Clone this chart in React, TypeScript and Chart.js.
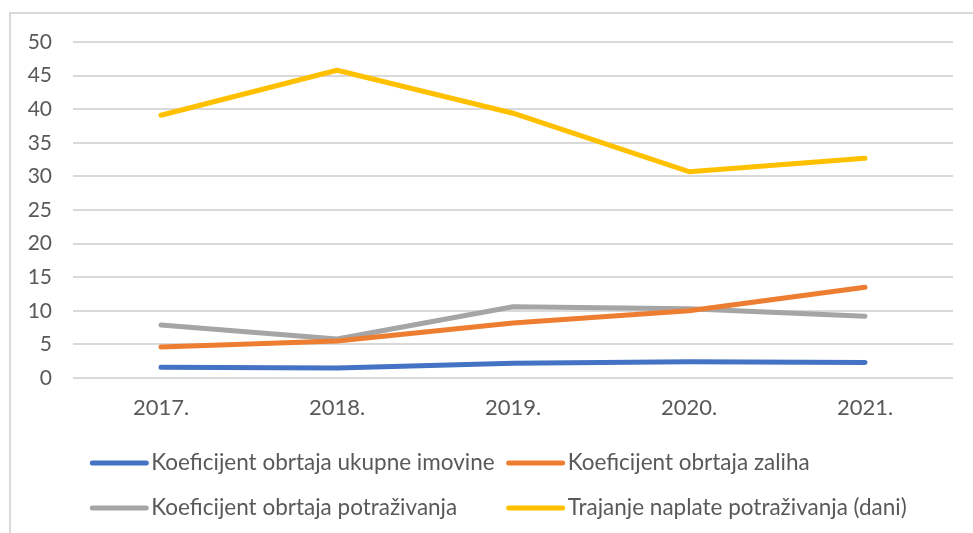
import React, { useEffect, useRef } from "react";
import { Chart, registerables } from "chart.js";

Chart.register(...registerables);

const categories = ["2017.", "2018.", "2019.", "2020.", "2021."];
const ukupneImovine = [1.6, 1.5, 2.2, 2.4, 2.3];
const zaliha = [4.6, 5.5, 8.2, 10.0, 13.5];
const potrazivanja = [7.9, 5.8, 10.6, 10.3, 9.2];
const trajanjeNaplate = [39.1, 45.8, 39.4, 30.7, 32.7];

const seriesNames = [
  "Koeficijent obrtaja ukupne imovine",
  "Koeficijent obrtaja zaliha",
  "Koeficijent obrtaja potraživanja",
  "Trajanje naplate potraživanja (dani)",
];
const seriesColors = ["#4472C4", "#ED7D31", "#A5A5A5", "#FFC000"];

const FONT_FAMILY = "Lato, 'Open Sans', sans-serif";
const TEXT_COLOR = "#595959";

const gridLegend = {
  id: "gridLegend",
  afterDraw(chart: any) {
    const ctx = chart.ctx;
    const ds = chart.data.datasets;
    ctx.save();
    ctx.font = `22.5px ${FONT_FAMILY}`;
    const sample = 58;
    const gap = 3;
    const colGap = 12;
    const w = ds.map((d: any) => ctx.measureText(d.label).width);
    const col1 = sample + gap + Math.max(w[0], w[2]);
    const col2 = sample + gap + Math.max(w[1], w[3]);
    const total = col1 + colGap + col2;
    const startX = chart.width / 2 + 12 - total / 2;
    const rows = [chart.chartArea.bottom + 85, chart.chartArea.bottom + 130];
    ds.forEach((d: any, i: number) => {
      const row = Math.floor(i / 2);
      const col = i % 2;
      const x = col === 0 ? startX : startX + col1 + colGap;
      const y = rows[row];
      ctx.strokeStyle = d.borderColor;
      ctx.lineWidth = 5;
      ctx.lineCap = "round";
      ctx.beginPath();
      ctx.moveTo(x + 2, y);
      ctx.lineTo(x + sample - 2, y);
      ctx.stroke();
      ctx.fillStyle = TEXT_COLOR;
      ctx.textBaseline = "middle";
      ctx.textAlign = "left";
      ctx.fillText(d.label, x + sample + gap, y);
    });
    ctx.restore();
  },
};

export default function App() {
  const ref = useRef<HTMLCanvasElement | null>(null);

  useEffect(() => {
    if (!ref.current) return;
    const values = [ukupneImovine, zaliha, potrazivanja, trajanjeNaplate];
    const chart = new Chart(ref.current, {
      type: "line",
      data: {
        labels: categories,
        datasets: values.map((v, i) => ({
          label: seriesNames[i],
          data: v,
          borderColor: seriesColors[i],
          backgroundColor: seriesColors[i],
          borderWidth: 5,
          borderCapStyle: "round",
          borderJoinStyle: "round",
          pointRadius: 0,
          pointHoverRadius: 0,
          tension: 0,
          fill: false,
        })),
      },
      options: {
        animation: false,
        responsive: false,
        maintainAspectRatio: false,
        layout: { padding: { left: 0, right: 20, top: 42, bottom: 105 } },
        plugins: {
          legend: { display: false },
          tooltip: { enabled: false },
        },
        scales: {
          x: {
            offset: true,
            grid: { display: false, drawTicks: false },
            border: { display: false },
            ticks: {
              color: TEXT_COLOR,
              font: { family: FONT_FAMILY, size: 22 },
              padding: 17,
            },
            afterFit(scale: any) {
              scale.height = 50;
            },
          },
          y: {
            min: 0,
            max: 50,
            grid: { color: "#D9D9D9", lineWidth: 2, drawTicks: false },
            border: { display: false },
            ticks: {
              stepSize: 5,
              color: TEXT_COLOR,
              font: { family: FONT_FAMILY, size: 21 },
              padding: 21,
            },
            afterFit(scale: any) {
              scale.width = 73;
            },
          },
        },
      },
      plugins: [gridLegend],
    });
    return () => chart.destroy();
  }, []);

  return (
    <div
      style={{
        position: "absolute",
        left: 0,
        top: 0,
        width: 973,
        height: 533,
        overflow: "hidden",
        background: "#fff",
      }}
    >
      <div
        style={{
          position: "absolute",
          left: 9,
          top: 12,
          width: 1000,
          height: 600,
          border: "2px solid #D9D9D9",
          boxSizing: "border-box",
        }}
      />
      <canvas
        ref={ref}
        width={973}
        height={533}
        style={{ position: "absolute", left: 0, top: 0, width: 973, height: 533 }}
      />
    </div>
  );
}
